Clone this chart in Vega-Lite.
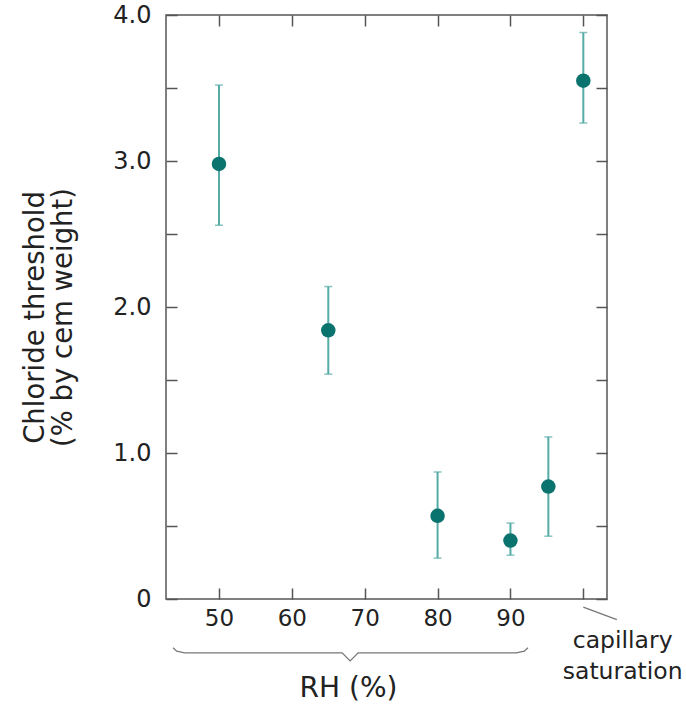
{
  "$schema": "https://vega.github.io/schema/vega-lite/v6.json",
  "width": 441,
  "height": 584,
  "autosize": {"type": "none"},
  "padding": {"left": 166, "top": 15, "right": 79, "bottom": 105},
  "background": "white",
  "view": {"stroke": "#555", "strokeWidth": 1.5},
  "config": {
    "font": "DejaVu Sans",
    "axis": {"grid": false, "domain": false, "tickColor": "#555", "tickWidth": 1.5, "tickSize": -11, "labelColor": "#222", "labelFontSize": 23, "titleColor": "#222", "titleFontWeight": "normal", "titleFontSize": 27.5}
  },
  "datasets": {
    "pts": [
      {"rh": 50, "value": 2.98, "lo": 2.56, "hi": 3.52},
      {"rh": 65, "value": 1.84, "lo": 1.54, "hi": 2.14},
      {"rh": 80, "value": 0.57, "lo": 0.28, "hi": 0.87},
      {"rh": 90, "value": 0.40, "lo": 0.30, "hi": 0.52},
      {"rh": 95.2, "value": 0.77, "lo": 0.43, "hi": 1.11},
      {"rh": 100, "value": 3.55, "lo": 3.26, "hi": 3.88}
    ],
    "brace": [
      {"i": 1, "bx": 43.7, "by": -0.334},
      {"i": 2, "bx": 44.2, "by": -0.357},
      {"i": 3, "bx": 45.3, "by": -0.369},
      {"i": 4, "bx": 66.9, "by": -0.369},
      {"i": 5, "bx": 68.0, "by": -0.424},
      {"i": 6, "bx": 69.1, "by": -0.369},
      {"i": 7, "bx": 90.8, "by": -0.369},
      {"i": 8, "bx": 91.9, "by": -0.357},
      {"i": 9, "bx": 92.4, "by": -0.334}
    ],
    "cap": [
      {"i": 1, "cx": 100.0, "cy": -0.055},
      {"i": 2, "cx": 104.6, "cy": -0.142}
    ],
    "note": [
      {"tx": 105.4, "ty": -0.29, "label": "capillary\nsaturation"}
    ]
  },
  "resolve": {"axis": {"x": "independent", "y": "independent"}},
  "layer": [
    {
      "data": {"name": "pts"},
      "mark": {"type": "rule", "color": "#55aba6", "strokeWidth": 2},
      "encoding": {
        "x": {"field": "rh", "type": "quantitative", "scale": {"domain": [42.73, 103.25], "nice": false, "zero": false},
          "axis": {"orient": "bottom", "values": [50, 60, 70, 80, 90, 100], "labelExpr": "datum.value == 100 ? '' : datum.label", "labelPadding": 19, "title": "RH (%)", "titleFontSize": 28, "titleX": 182, "titleY": 89, "titleBaseline": "middle", "titleAnchor": null, "titleAlign": "center"}},
        "y": {"field": "lo", "type": "quantitative", "scale": {"domain": [0, 4.0], "nice": false},
          "axis": {"orient": "left", "values": [0, 0.5, 1, 1.5, 2, 2.5, 3, 3.5, 4], "labelExpr": "datum.value == 0 ? '0' : (datum.value % 1 == 0 ? format(datum.value, '.1f') : '')", "labelFontSize": 24, "labelPadding": 26, "title": ["Chloride threshold", "(% by cem weight)"], "titleX": -131, "titleY": 302, "titleAngle": -90, "titleBaseline": "middle", "titleAlign": "center", "titleAnchor": null, "titleLineHeight": 28}},
        "y2": {"field": "hi"}
      }
    },
    {
      "data": {"name": "pts"},
      "mark": {"type": "tick", "orient": "horizontal", "color": "#55aba6", "size": 8, "thickness": 1.5},
      "encoding": {
        "x": {"field": "rh", "type": "quantitative", "axis": null},
        "y": {"field": "hi", "type": "quantitative", "axis": null}
      }
    },
    {
      "data": {"name": "pts"},
      "mark": {"type": "tick", "orient": "horizontal", "color": "#55aba6", "size": 8, "thickness": 1.5},
      "encoding": {
        "x": {"field": "rh", "type": "quantitative", "axis": null},
        "y": {"field": "lo", "type": "quantitative", "axis": null}
      }
    },
    {
      "data": {"name": "pts"},
      "mark": {"type": "point", "filled": true, "opacity": 1, "color": "#0b736d", "size": 210},
      "encoding": {
        "x": {"field": "rh", "type": "quantitative", "axis": null},
        "y": {"field": "value", "type": "quantitative", "axis": null}
      }
    },
    {
      "data": {"name": "brace"},
      "mark": {"type": "line", "color": "#777", "strokeWidth": 1.3, "clip": false, "interpolate": "linear"},
      "encoding": {
        "x": {"field": "bx", "type": "quantitative", "axis": null},
        "y": {"field": "by", "type": "quantitative", "axis": null},
        "order": {"field": "i"}
      }
    },
    {
      "data": {"name": "cap"},
      "mark": {"type": "line", "color": "#777", "strokeWidth": 1.3, "clip": false},
      "encoding": {
        "x": {"field": "cx", "type": "quantitative", "axis": null},
        "y": {"field": "cy", "type": "quantitative", "axis": null},
        "order": {"field": "i"}
      }
    },
    {
      "data": {"name": "note"},
      "mark": {"type": "text", "fontSize": 23.5, "color": "#222", "lineBreak": "\n", "lineHeight": 31, "align": "center", "baseline": "middle", "clip": false},
      "encoding": {
        "x": {"field": "tx", "type": "quantitative", "axis": null},
        "y": {"field": "ty", "type": "quantitative", "axis": null},
        "text": {"field": "label"}
      }
    },
    {
      "data": {"name": "pts"},
      "mark": {"type": "point", "opacity": 0},
      "encoding": {
        "x": {"field": "rh", "type": "quantitative", "axis": {"orient": "top", "values": [50, 60, 70, 80, 90, 100], "labels": false, "title": null}},
        "y": {"field": "value", "type": "quantitative", "axis": {"orient": "right", "values": [0, 0.5, 1, 1.5, 2, 2.5, 3, 3.5, 4], "labels": false, "title": null}}
      }
    }
  ]
}
